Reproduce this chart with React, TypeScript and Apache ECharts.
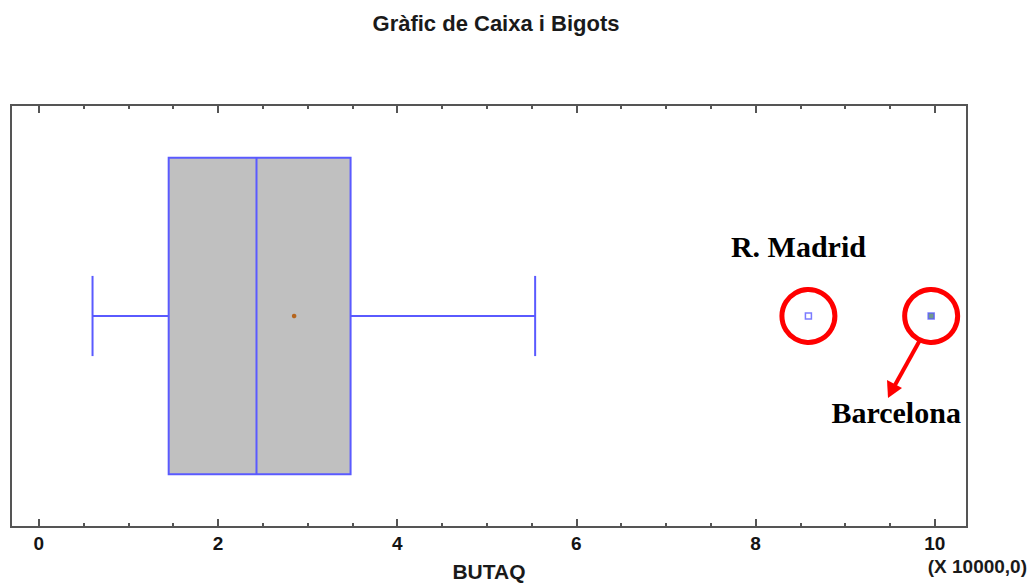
import React, { useEffect, useRef } from "react";
import * as echarts from "echarts";

const categories = ["BUTAQ"];
// five-number summary (x 10000) and mean
const boxStats = [0.6, 1.45, 2.43, 3.48, 5.54];
const meanValue = 2.85;
const outlierNames = ["R. Madrid", "Barcelona"];
const outlierValues = [8.59, 9.96];
const tickValues = [0, 0.5, 1, 1.5, 2, 2.5, 3, 3.5, 4, 4.5, 5, 5.5, 6, 6.5, 7, 7.5, 8, 8.5, 9, 9.5, 10];
const majorTickValues = [0, 2, 4, 6, 8, 10];

const SANS = "'Liberation Sans', Arial, sans-serif";
const SERIF = "'Liberation Serif', 'Times New Roman', serif";
const BLUE = "#5a5aff";
const AXIS = "#555555";

export default function App() {
  const ref = useRef<HTMLDivElement>(null);
  useEffect(() => {
    if (!ref.current) return;
    const chart = echarts.init(ref.current, null, { renderer: "svg" });
    const xMin = -0.31;
    const xMax = 10.36;
    const baseAxis = (pos: string, showLabel: boolean, values: number[], len: number, extra: any = {}) => ({
      type: "value",
      position: pos,
      min: xMin,
      max: xMax,
      splitLine: { show: false },
      axisLine: { show: false },
      axisTick: {
        show: true,
        inside: true,
        length: len,
        customValues: values,
        lineStyle: { color: AXIS, width: 2 },
      },
      axisLabel: showLabel
        ? {
            show: true,
            customValues: majorTickValues,
            margin: 7,
            fontFamily: SANS,
            fontWeight: "bold",
            fontSize: 19,
            color: "#141414",
          }
        : { show: false },
      ...extra,
    });
    chart.setOption({
      animation: false,
      backgroundColor: "#ffffff",
      title: {
        text: "Gràfic de Caixa i Bigots",
        left: 491,
        top: 7,
        textAlign: "center",
        textStyle: { fontFamily: SANS, fontWeight: "bold", fontSize: 22, color: "#1a1a1a" },
      },
      grid: {
        left: 11,
        top: 105,
        right: 62,
        bottom: 58,
        show: true,
        borderColor: AXIS,
        borderWidth: 2,
        backgroundColor: "transparent",
        containLabel: false,
        outerBoundsMode: "none",
      },
      xAxis: [
        baseAxis("bottom", true, tickValues, 4, {
          name: "BUTAQ",
          nameLocation: "middle",
          nameGap: 34,
          nameTextStyle: { fontFamily: SANS, fontWeight: "bold", fontSize: 21, color: "#1a1a1a" },
        }),
        baseAxis("bottom", false, majorTickValues, 8),
        baseAxis("top", false, tickValues, 4),
        baseAxis("top", false, majorTickValues, 8),
      ],
      yAxis: {
        type: "category",
        data: categories,
        axisLine: { show: false },
        axisTick: { show: false },
        axisLabel: { show: false },
        splitLine: { show: false },
      },
      series: [
        {
          type: "custom",
          xAxisIndex: 0,
          data: [[0, ...boxStats, meanValue]],
          encode: { x: [1, 2, 3, 4, 5, 6], y: 0 },
          renderItem: (params: any, api: any) => {
            const cat = api.value(0);
            const lo = api.coord([api.value(1), cat]);
            const q1 = api.coord([api.value(2), cat]);
            const md = api.coord([api.value(3), cat]);
            const q3 = api.coord([api.value(4), cat]);
            const hi = api.coord([api.value(5), cat]);
            const mn = api.coord([api.value(6), cat]);
            const band = api.size([0, 1])[1];
            const cy = lo[1];
            const boxH = band * 0.75;
            const capH = band * 0.19;
            const ls = { stroke: BLUE, lineWidth: 2 };
            return {
              type: "group",
              children: [
                { type: "line", shape: { x1: lo[0], y1: cy, x2: q1[0], y2: cy }, style: ls },
                { type: "line", shape: { x1: q3[0], y1: cy, x2: hi[0], y2: cy }, style: ls },
                { type: "line", shape: { x1: lo[0], y1: cy - capH / 2, x2: lo[0], y2: cy + capH / 2 }, style: ls },
                { type: "line", shape: { x1: hi[0], y1: cy - capH / 2, x2: hi[0], y2: cy + capH / 2 }, style: ls },
                {
                  type: "rect",
                  shape: { x: q1[0], y: cy - boxH / 2, width: q3[0] - q1[0], height: boxH },
                  style: { fill: "#c0c0c0", stroke: BLUE, lineWidth: 2 },
                },
                { type: "line", shape: { x1: md[0], y1: cy - boxH / 2, x2: md[0], y2: cy + boxH / 2 }, style: ls },
                { type: "circle", shape: { cx: mn[0], cy: cy, r: 2.3 }, style: { fill: "#b5651d" } },
              ],
            };
          },
        },
        {
          type: "scatter",
          symbol: "rect",
          symbolSize: 6,
          z: 5,
          data: outlierValues.map((v, i) => ({
            name: outlierNames[i],
            value: [v, 0],
            itemStyle: {
              color: i === 0 ? "#ffffff" : "#4f7f70",
              borderColor: BLUE,
              borderWidth: 1.5,
            },
          })),
        },
        {
          type: "scatter",
          symbol: "circle",
          symbolSize: 53,
          z: 4,
          itemStyle: { color: "transparent", borderColor: "#ff0000", borderWidth: 5, opacity: 1 },
          data: outlierValues.map((v, i) => ({
            name: outlierNames[i],
            value: [v, 0],
            label: {
              show: true,
              position: "inside",
              formatter: outlierNames[i],
              offset: i === 0 ? [-10, -70] : [-35, 96],
              fontFamily: SERIF,
              fontWeight: "bold",
              fontSize: 30,
              color: "#000",
            },
          })),
        },
      ],
      graphic: [
        {
          type: "text",
          right: 2,
          top: 557,
          style: {
            text: "(X 10000,0)",
            fontFamily: SANS,
            fontWeight: "bold",
            fontSize: 19,
            fill: "#1a1a1a",
          },
        },
        {
          type: "line",
          shape: { x1: 920, y1: 340, x2: 895, y2: 385 },
          style: { stroke: "#ff0000", lineWidth: 4 },
        },
        {
          type: "polygon",
          shape: { points: [[888, 398], [902, 388], [887, 380]] },
          style: { fill: "#ff0000" },
        },
      ],
    });
    return () => chart.dispose();
  }, []);
  return (
    <div
      ref={ref}
      style={{ position: "fixed", left: 0, top: 0, width: 1029, height: 585 }}
    />
  );
}
